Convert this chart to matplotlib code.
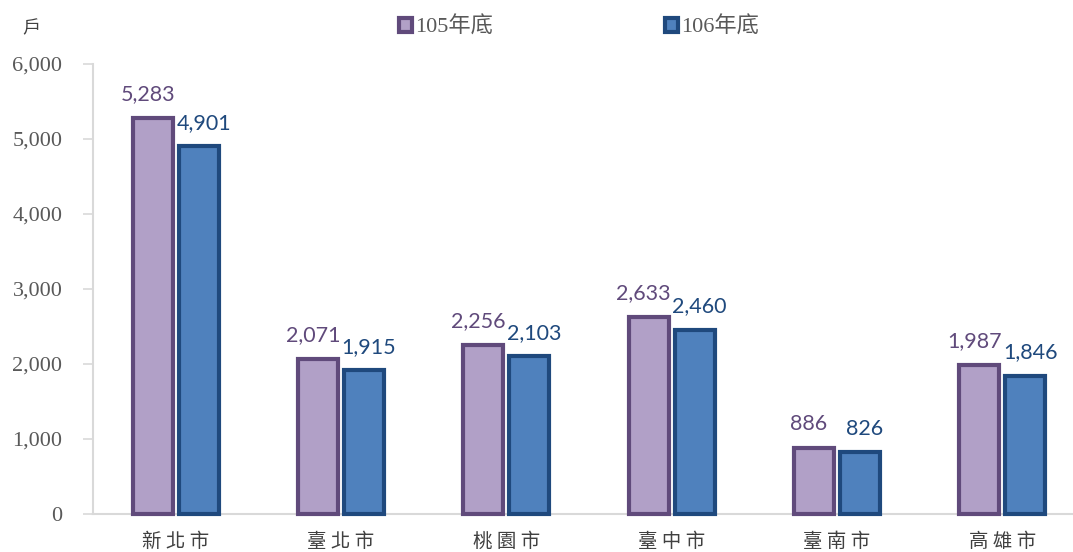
import matplotlib.pyplot as plt
import numpy as np

cities = ["新北市", "臺北市", "桃園市", "臺中市", "臺南市", "高雄市"]
y105 = [5283, 2071, 2256, 2633, 886, 1987]
y106 = [4901, 1915, 2103, 2460, 826, 1846]
series_names = ["105年底", "106年底"]
yticks = [0, 1000, 2000, 3000, 4000, 5000, 6000]

fill_colors = ["#b1a0c7", "#4f81bd"]
edge_colors = ["#604a7b", "#1f497d"]
plt.rcParams["font.family"] = ["Liberation Serif", "Noto Sans CJK TC"]
cjk = ["Noto Sans CJK TC", "DejaVu Sans"]

fig = plt.figure(figsize=(10.73, 5.52), dpi=100)
ax = fig.add_axes([93 / 1073, 1 - 514 / 552, 6 * 165.3 / 1073, 450 / 552])

x = np.arange(len(cities))
off = 0.139
w = 0.242
bars = []
for i, vals in enumerate([y105, y106]):
    sign = i * 2 - 1
    b = ax.bar(x + sign * off, vals, width=w, color=fill_colors[i],
               edgecolor=edge_colors[i], linewidth=3, label=series_names[i],
               zorder=3, clip_on=False)
    bars.append(b)
    # labels pushed slightly apart, like Excel does
    for xi, v in zip(x, vals):
        ax.text(xi + sign * (off + 0.03), v + 180, f"{v:,}", ha="center", va="bottom",
                fontsize=15.5, color=edge_colors[i], family=["Lato", "DejaVu Sans"])

ax.set_xlim(-0.5, 5.5)
ax.set_ylim(0, 6000)
ax.set_yticks(yticks)
ax.set_yticklabels([f"{t:,}" for t in yticks], fontsize=16, color="#595959")
ax.set_xticks(x)
ax.set_xticklabels([" ".join(c) for c in cities], family=cjk, fontsize=14, color="#404040")
ax.tick_params(axis="x", length=0, pad=12)
ax.tick_params(axis="y", length=7, color="#d9d9d9", width=1.2, pad=15)

for s in ["top", "right"]:
    ax.spines[s].set_visible(False)
for s in ["left", "bottom"]:
    ax.spines[s].set_color("#d9d9d9")
    ax.spines[s].set_linewidth(1.5)

fig.text(31 / 1073, 1 - 28 / 552, "戶", family=cjk, fontsize=13, color="#404040",
         ha="center", va="center", style="italic")

leg = fig.legend(handles=bars, labels=series_names, loc="center",
                 bbox_to_anchor=(579 / 1073, 1 - 27 / 552), ncol=2, frameon=False,
                 prop={"size": 16}, handlelength=0.6, handleheight=0.6,
                 handletextpad=0.15, columnspacing=7.7)
for t in leg.get_texts():
    t.set_color("#595959")

fig.savefig("out.png", dpi=100)
